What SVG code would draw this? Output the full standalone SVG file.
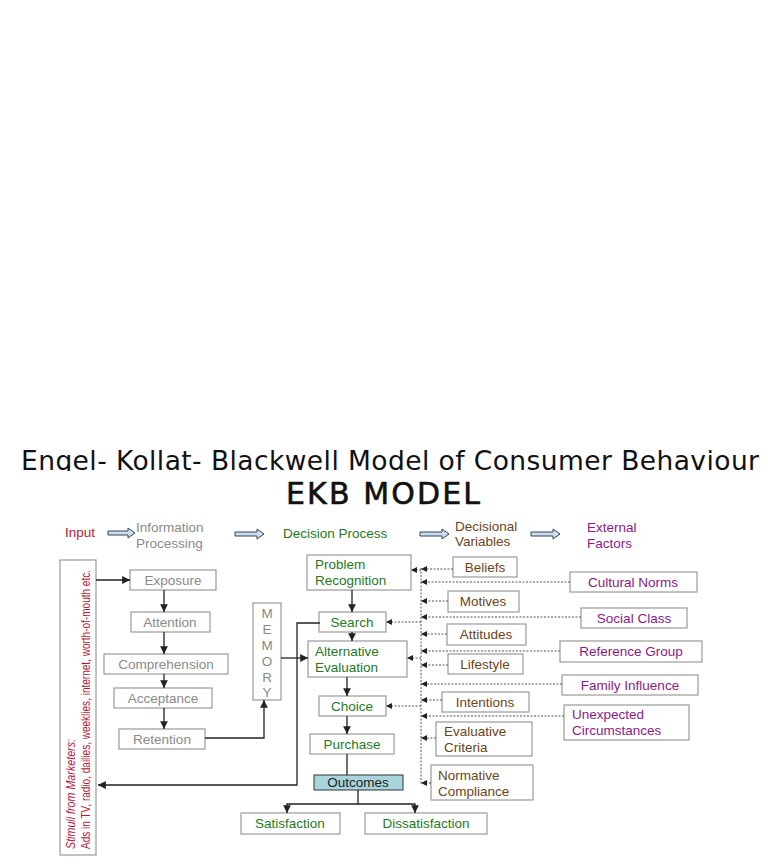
<svg xmlns="http://www.w3.org/2000/svg" width="768" height="866" viewBox="0 0 768 866">
<defs>
<style>
text{font-family:"Liberation Sans",Arial,sans-serif;font-size:13.5px}
.b{fill:#fff;stroke:#999;stroke-width:1.2}
.g{fill:#8a8a8a}.gr{fill:#1e7a1e}.br{fill:#6b4420}.pu{fill:#8a1a8a}
.ln{stroke:#222;stroke-width:1.3;fill:none}
.dt{stroke:#555;stroke-width:1;stroke-dasharray:2 1.5;fill:none}
.fat{fill:#cde;stroke:#345;stroke-width:1}
</style>
<marker id="a" viewBox="0 0 8 8" refX="8" refY="4" markerWidth="6" markerHeight="6" orient="auto"><path d="M0,0L8,4L0,8z" fill="#222"/></marker>
<clipPath id="tc"><rect x="0" y="0" width="768" height="471"/></clipPath>
</defs>
<rect width="768" height="866" fill="#fff"/>
<text x="390" y="470" text-anchor="middle" clip-path="url(#tc)" textLength="738" style="font-family:'DejaVu Sans',sans-serif;font-size:26.5px" fill="#111">Engel- Kollat- Blackwell Model of Consumer Behaviour</text>
<text x="383" y="504" text-anchor="middle" textLength="194" style="font-family:'DejaVu Sans',sans-serif;font-size:30px;font-weight:500" fill="#111" stroke="#111" stroke-width="0.6">EKB MODEL</text>
<g id="header">
<text x="65" y="537" fill="#b01a3a">Input</text>
<text x="136" y="532" class="g">Information</text><text x="136" y="548" class="g">Processing</text>
<text x="283" y="538" class="gr">Decision Process</text>
<text x="455" y="531" class="br">Decisional</text><text x="455" y="546" class="br">Variables</text>
<text x="587" y="532" class="pu">External</text><text x="587" y="548" class="pu">Factors</text>
<path class="fat" d="M108,531h20v-3l7,5l-7,5v-3h-20z"/>
<path class="fat" d="M235,532h22v-3l7,5l-7,5v-3h-22z"/>
<path class="fat" d="M420,532h22v-3l7,5l-7,5v-3h-22z"/>
<path class="fat" d="M531,532h22v-3l7,5l-7,5v-3h-22z"/>
</g>
<g id="stimuli"><rect class="b" x="60" y="560" width="36" height="295"/>
<text transform="translate(75,849) rotate(-90)" textLength="110" lengthAdjust="spacingAndGlyphs" style="font-size:12px;font-style:italic" fill="#b01a3a">Stimuli from Marketers:</text>
<text transform="translate(90,849) rotate(-90)" textLength="279" lengthAdjust="spacingAndGlyphs" style="font-size:12px" fill="#b01a3a">Ads in TV, radio, dailies, weeklies, internet, worth-of-mouth etc.</text></g>
<g id="exposure"><rect class="b" x="130" y="570" width="86" height="20"/><text x="173" y="585" text-anchor="middle" class="g">Exposure</text></g>
<g id="attention"><rect class="b" x="131" y="612" width="79" height="20"/><text x="170" y="627" text-anchor="middle" class="g">Attention</text></g>
<g id="comprehension"><rect class="b" x="104" y="654" width="124" height="20"/><text x="166" y="669" text-anchor="middle" class="g">Comprehension</text></g>
<g id="acceptance"><rect class="b" x="114" y="688" width="98" height="20"/><text x="163" y="703" text-anchor="middle" class="g">Acceptance</text></g>
<g id="retention"><rect class="b" x="119" y="729" width="86" height="20"/><text x="162" y="744" text-anchor="middle" class="g">Retention</text></g>
<g id="memory"><rect class="b" x="253" y="603" width="28" height="97"/>
<g class="g" text-anchor="middle"><text x="267" y="618">M</text><text x="267" y="634">E</text><text x="267" y="650">M</text><text x="267" y="666">O</text><text x="267" y="682">R</text><text x="267" y="697">Y</text></g></g>
<g id="problem"><rect class="b" x="307" y="555" width="104" height="35"/><text x="315" y="569" class="gr">Problem</text><text x="315" y="585" class="gr">Recognition</text></g>
<g id="search"><rect class="b" x="319" y="612" width="67" height="20"/><text x="352" y="627" text-anchor="middle" class="gr">Search</text></g>
<g id="alteval"><rect class="b" x="308" y="641" width="99" height="36"/><text x="315" y="656" class="gr">Alternative</text><text x="315" y="672" class="gr">Evaluation</text></g>
<g id="choice"><rect class="b" x="319" y="696" width="67" height="20"/><text x="352" y="711" text-anchor="middle" class="gr">Choice</text></g>
<g id="purchase"><rect class="b" x="310" y="734" width="84" height="20"/><text x="352" y="749" text-anchor="middle" class="gr">Purchase</text></g>
<g id="outcomes"><rect x="314" y="775" width="89" height="15" fill="#a8d4dc" stroke="#333"/><text x="358" y="787" text-anchor="middle" fill="#222">Outcomes</text></g>
<g id="satisfaction"><rect class="b" x="241" y="813" width="99" height="21"/><text x="290" y="828" text-anchor="middle" class="gr">Satisfaction</text></g>
<g id="dissatisfaction"><rect class="b" x="365" y="813" width="122" height="21"/><text x="426" y="828" text-anchor="middle" class="gr">Dissatisfaction</text></g>
<g id="beliefs"><rect class="b" x="453" y="557" width="64" height="20"/><text x="485" y="572" text-anchor="middle" class="br">Beliefs</text></g>
<g id="motives"><rect class="b" x="448" y="591" width="71" height="21"/><text x="483" y="606" text-anchor="middle" class="br">Motives</text></g>
<g id="attitudes"><rect class="b" x="447" y="624" width="79" height="21"/><text x="486" y="639" text-anchor="middle" class="br">Attitudes</text></g>
<g id="lifestyle"><rect class="b" x="448" y="654" width="75" height="20"/><text x="485" y="669" text-anchor="middle" class="br">Lifestyle</text></g>
<g id="intentions"><rect class="b" x="442" y="692" width="87" height="20"/><text x="485" y="707" text-anchor="middle" class="br">Intentions</text></g>
<g id="evaluative"><rect class="b" x="436" y="722" width="96" height="34"/><text x="444" y="736" class="br">Evaluative</text><text x="444" y="752" class="br">Criteria</text></g>
<g id="normative"><rect class="b" x="431" y="765" width="102" height="35"/><text x="438" y="780" class="br">Normative</text><text x="438" y="796" class="br">Compliance</text></g>
<g id="cultural"><rect class="b" x="570" y="572" width="127" height="20"/><text x="633" y="587" text-anchor="middle" class="pu">Cultural Norms</text></g>
<g id="social"><rect class="b" x="581" y="608" width="106" height="20"/><text x="634" y="623" text-anchor="middle" class="pu">Social Class</text></g>
<g id="reference"><rect class="b" x="560" y="641" width="142" height="21"/><text x="631" y="656" text-anchor="middle" class="pu">Reference Group</text></g>
<g id="family"><rect class="b" x="562" y="675" width="136" height="20"/><text x="630" y="690" text-anchor="middle" class="pu">Family Influence</text></g>
<g id="unexpected"><rect class="b" x="564" y="705" width="125" height="35"/><text x="572" y="719" class="pu">Unexpected</text><text x="572" y="735" class="pu">Circumstances</text></g>
<g id="connectors">
<path class="ln" d="M96,580H130" marker-end="url(#a)"/>
<path class="ln" d="M164,590V612" marker-end="url(#a)"/>
<path class="ln" d="M164,632V654" marker-end="url(#a)"/>
<path class="ln" d="M164,674V688" marker-end="url(#a)"/>
<path class="ln" d="M164,708V729" marker-end="url(#a)"/>
<path class="ln" d="M205,738H264V700" marker-end="url(#a)"/>
<path class="ln" d="M281,658H308" marker-end="url(#a)"/>
<path class="ln" d="M320,623H297V785H98" marker-end="url(#a)"/>
<path class="ln" d="M352,590V612" marker-end="url(#a)"/>
<path class="ln" d="M352,632V641" marker-end="url(#a)"/>
<path class="ln" d="M347,677V696" marker-end="url(#a)"/>
<path class="ln" d="M347,716V734" marker-end="url(#a)"/>
<path class="ln" d="M347,754V775"/>
<path class="ln" d="M358,790V804H287V813" marker-end="url(#a)"/>
<path class="ln" d="M358,804H415V813" marker-end="url(#a)"/>
<path class="dt" d="M421,568V785"/>
<path class="dt" d="M421,570H411" marker-end="url(#a)"/>
<path class="dt" d="M421,622H386" marker-end="url(#a)"/>
<path class="dt" d="M421,658H407" marker-end="url(#a)"/>
<path class="dt" d="M421,706H386" marker-end="url(#a)"/>
<path class="dt" d="M453,569H421" marker-end="url(#a)"/>
<path class="dt" d="M570,582H421" marker-end="url(#a)"/>
<path class="dt" d="M448,601H421" marker-end="url(#a)"/>
<path class="dt" d="M581,617H421" marker-end="url(#a)"/>
<path class="dt" d="M447,634H421" marker-end="url(#a)"/>
<path class="dt" d="M560,651H421" marker-end="url(#a)"/>
<path class="dt" d="M448,665H421" marker-end="url(#a)"/>
<path class="dt" d="M562,684H421" marker-end="url(#a)"/>
<path class="dt" d="M442,700H421" marker-end="url(#a)"/>
<path class="dt" d="M564,716H421" marker-end="url(#a)"/>
<path class="dt" d="M436,738H421" marker-end="url(#a)"/>
<path class="dt" d="M431,783H421" marker-end="url(#a)"/>
</g>
</svg>
